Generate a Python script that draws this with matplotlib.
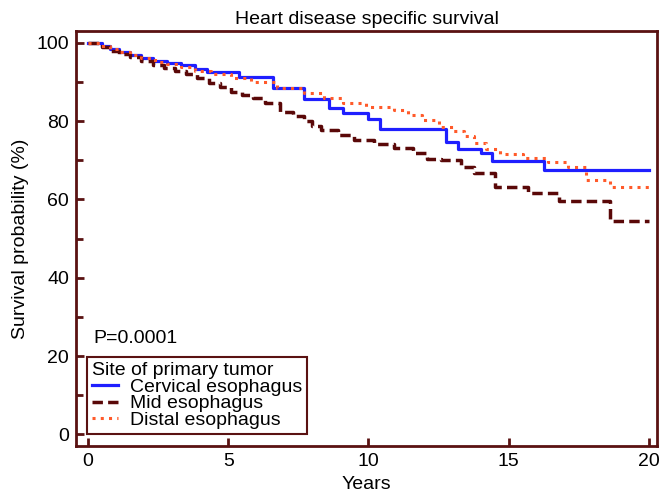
import matplotlib
matplotlib.use("Agg")
import matplotlib.pyplot as plt
from matplotlib.ticker import MultipleLocator

plt.rcParams['font.family'] = ['Liberation Sans', 'DejaVu Sans']

title = "Heart disease specific survival"
legend_title = "Site of primary tumor"
series_names = ["Cervical esophagus", "Mid esophagus", "Distal esophagus"]

cervical_t = [0, 0.5, 0.8, 1.1, 1.5, 1.9, 2.3, 2.8, 3.3, 3.8, 4.25, 5.4, 6.6, 7.7, 8.6, 9.1, 10.0, 10.4, 12.75, 13.2, 14.0, 14.4, 16.25, 20.0]
cervical_s = [100, 99.2, 98.4, 97.6, 96.8, 96.0, 95.4, 94.8, 94.2, 93.3, 92.5, 91.2, 88.5, 85.6, 83.3, 82.0, 80.5, 78.0, 74.7, 73.0, 71.8, 69.8, 67.5, 67.5]

mid_t = [0, 0.5, 0.8, 1.1, 1.5, 1.9, 2.3, 2.7, 3.1, 3.5, 3.9, 4.3, 4.7, 5.1, 5.5, 5.9, 6.3, 6.85, 7.3, 7.7, 8.0, 8.3, 8.9, 9.5, 10.2, 10.9, 11.6, 12.1, 12.6, 13.3, 13.75, 14.5, 15.7, 16.8, 18.6, 20.0]
mid_s = [100, 99.0, 98.0, 97.2, 96.4, 95.4, 94.4, 93.5, 92.7, 91.9, 91.0, 89.8, 88.6, 87.4, 86.7, 85.9, 84.6, 82.3, 81.3, 80.0, 78.8, 77.7, 76.4, 75.2, 74.2, 73.1, 71.8, 70.3, 70.0, 68.3, 66.8, 63.2, 61.7, 59.6, 54.5, 54.5]

distal_t = [0, 0.45, 0.8, 1.1, 1.5, 1.9, 2.4, 2.8, 3.3, 3.8, 4.4, 5.1, 5.8, 6.75, 7.7, 8.4, 9.1, 9.9, 10.9, 11.4, 11.9, 12.5, 13.0, 13.4, 13.75, 14.2, 14.7, 15.5, 16.4, 17.1, 17.75, 18.6, 20.0]
distal_s = [100, 99.1, 98.4, 97.6, 96.9, 96.0, 95.2, 94.5, 93.8, 92.9, 92.0, 91.0, 90.0, 88.4, 87.2, 86.0, 84.6, 83.7, 82.8, 81.6, 80.3, 78.5, 77.5, 76.2, 74.4, 72.8, 71.6, 70.5, 69.6, 68.3, 65.0, 63.2, 63.2]

x_ticks = [0, 5, 10, 15, 20]
y_ticks = [0, 20, 40, 60, 80, 100]

fs = 14

fig = plt.figure(figsize=(6.61, 4.98), dpi=100)
ax = fig.add_axes([76/661, 1-446/498, (657-76)/661, (446-31)/498])

frame = '#5a1212'
ax.step(cervical_t, cervical_s, where='post', color='#1f1fff', lw=2.3, label=series_names[0])
ax.step(mid_t, mid_s, where='post', color='#5a0808', lw=2.5, ls=(0, (3, 1.5)), label=series_names[1])
ax.step(distal_t, distal_s, where='post', color='#ff5a2a', lw=2.2, ls=(0, (1, 1.7)), label=series_names[2])

ax.set_xlim(-0.43, 20.29)
ax.set_ylim(-2.94, 103.0)
ax.set_xticks(x_ticks)
ax.set_yticks(y_ticks)
ax.yaxis.set_minor_locator(MultipleLocator(10))
for s in ax.spines.values():
    s.set_color(frame)
    s.set_linewidth(2)
ax.tick_params(which='both', direction='in', color=frame, width=2, labelsize=fs, pad=5)
ax.tick_params(which='major', length=6)
ax.tick_params(which='minor', length=5)
ax.tick_params(axis='x', which='minor', length=0)

ax.set_title(title, fontsize=fs, pad=5)
ax.set_xlabel("Years", fontsize=fs, labelpad=4)
ax.set_ylabel("Survival probability (%)", fontsize=fs, labelpad=5)

ax.text(0.18, 24.4, "P=0.0001", fontsize=fs, va='center', ha='left')

leg = ax.legend(title=legend_title, loc='lower left',
                bbox_to_anchor=(87/661, 1-434/498), bbox_transform=fig.transFigure,
                borderaxespad=0, fontsize=fs, title_fontsize=fs,
                handlelength=1.35, handletextpad=0.6, labelspacing=-0.05,
                borderpad=0.25, fancybox=False, framealpha=1, alignment='left')
leg.get_frame().set_edgecolor(frame)
leg.get_frame().set_linewidth(1.5)

fig.savefig("out.png", dpi=100)
